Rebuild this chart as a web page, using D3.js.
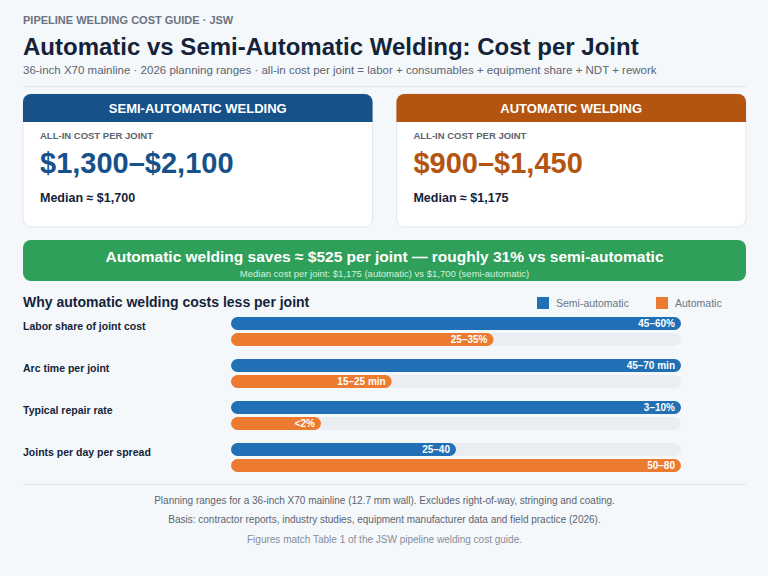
<!DOCTYPE html>
<html lang="en">
<head>
<meta charset="UTF-8">
<title>Automatic vs Semi-Automatic Welding: Cost per Joint</title>
<script src="https://cdn.jsdelivr.net/npm/d3@7"></script>
<style>
  body { margin: 0; background: #f5f8fb; }
  svg { font-family: "Liberation Sans", Arial, sans-serif; display: block; }
</style>
</head>
<body>
<svg width="768" height="576"></svg>
<script>
  // metrics: each is scaled to its own max (upper end of the range)
  var metrics = ["Labor share of joint cost", "Arc time per joint", "Typical repair rate", "Joints per day per spread"];
  var semiHigh = [60, 70, 10, 40];
  var autoHigh = [35, 25, 2, 80];
  var semiLabels = ["45–60%", "45–70 min", "3–10%", "25–40"];
  var autoLabels = ["25–35%", "15–25 min", "<2%", "50–80"];

  var cards = [
    {title: "SEMI-AUTOMATIC WELDING", range: "$1,300–$2,100", median: "Median ≈ $1,700", head: "#17518a", text: "#17518a"},
    {title: "AUTOMATIC WELDING", range: "$900–$1,450", median: "Median ≈ $1,175", head: "#b35410", text: "#b35410"}
  ];

  var svg = d3.select("svg");
  svg.append("rect").attr("width", 768).attr("height", 576).attr("fill", "#f5f8fb");

  svg.append("text").attr("x", 23).attr("y", 24).attr("font-size", 11).attr("font-weight", "bold")
    .attr("fill", "#6b7480").text("PIPELINE WELDING COST GUIDE  ·  JSW");
  svg.append("text").attr("x", 23).attr("y", 55).attr("font-size", 24).attr("font-weight", "bold")
    .attr("fill", "#14233a").text("Automatic vs Semi-Automatic Welding: Cost per Joint");
  svg.append("text").attr("x", 23).attr("y", 74).attr("font-size", 11.5).attr("fill", "#5b6470")
    .text("36-inch X70 mainline  ·  2026 planning ranges  ·  all-in cost per joint = labor + consumables + equipment share + NDT + rework");
  svg.append("line").attr("x1", 23).attr("x2", 746).attr("y1", 86.5).attr("y2", 86.5).attr("stroke", "#e1e6ec");

  // cards
  var cx = d3.scaleBand().domain([0, 1]).range([23, 746]).paddingInner(0.064);
  var cg = svg.selectAll("g.card").data(cards).enter().append("g")
    .attr("transform", (d, i) => "translate(" + cx(i) + ",94)");
  var cw = cx.bandwidth();
  cg.append("rect").attr("width", cw).attr("height", 133).attr("rx", 8)
    .attr("fill", "#fff").attr("stroke", "#e1e6ec");
  cg.append("path").attr("d", "M0,28 V8 A8,8 0 0 1 8,0 H" + (cw - 8) + " A8,8 0 0 1 " + cw + ",8 V28 Z")
    .attr("fill", d => d.head);
  cg.append("text").attr("x", cw / 2).attr("y", 19).attr("text-anchor", "middle").attr("font-size", 13)
    .attr("font-weight", "bold").attr("fill", "#fff").text(d => d.title);
  cg.append("text").attr("x", 17).attr("y", 45).attr("font-size", 9.5).attr("font-weight", "bold")
    .attr("fill", "#5b6470").text("ALL-IN COST PER JOINT");
  cg.append("text").attr("x", 17).attr("y", 79).attr("font-size", 29).attr("font-weight", "bold")
    .attr("fill", d => d.text).text(d => d.range);
  cg.append("text").attr("x", 17).attr("y", 108).attr("font-size", 12.5).attr("font-weight", "bold")
    .attr("fill", "#14233a").text(d => d.median);

  // banner
  svg.append("rect").attr("x", 23).attr("y", 240).attr("width", 723).attr("height", 41).attr("rx", 8).attr("fill", "#2fa05a");
  svg.append("text").attr("x", 384.5).attr("y", 262).attr("text-anchor", "middle").attr("font-size", 15.5)
    .attr("font-weight", "bold").attr("fill", "#fff")
    .text("Automatic welding saves ≈ $525 per joint — roughly 31% vs semi-automatic");
  svg.append("text").attr("x", 384.5).attr("y", 277).attr("text-anchor", "middle").attr("font-size", 9.5)
    .attr("fill", "#d6f0de").text("Median cost per joint: $1,175 (automatic)  vs  $1,700 (semi-automatic)");

  // bars section
  svg.append("text").attr("x", 23).attr("y", 307).attr("font-size", 14).attr("font-weight", "bold")
    .attr("fill", "#14233a").text("Why automatic welding costs less per joint");
  var legend = [["Semi-automatic", "#2170b5", 537], ["Automatic", "#ec7b30", 656]];
  legend.forEach(l => {
    svg.append("rect").attr("x", l[2]).attr("y", 297).attr("width", 12).attr("height", 12).attr("fill", l[1]);
    svg.append("text").attr("x", l[2] + 19).attr("y", 307).attr("font-size", 10.5).attr("fill", "#6b7480").text(l[0]);
  });

  var y = d3.scaleBand().domain(metrics).range([317, 485]).paddingInner(0);
  var x = d3.scaleLinear().domain([0, 1]).range([231, 681]);
  var bh = 13;
  metrics.forEach((m, i) => {
    var max = Math.max(semiHigh[i], autoHigh[i]);
    var y0 = y(m);
    svg.append("text").attr("x", 23).attr("y", y0 + 13).attr("font-size", 10.5).attr("font-weight", "bold")
      .attr("fill", "#14233a").text(m);
    [[semiHigh[i], semiLabels[i], "#2170b5", y0], [autoHigh[i], autoLabels[i], "#ec7b30", y0 + 16]].forEach(b => {
      svg.append("rect").attr("x", x(0)).attr("y", b[3]).attr("width", x(1) - x(0)).attr("height", bh)
        .attr("rx", bh / 2).attr("fill", "#eaeef3");
      var xe = x(b[0] / max);
      svg.append("rect").attr("x", x(0)).attr("y", b[3]).attr("width", xe - x(0)).attr("height", bh)
        .attr("rx", bh / 2).attr("fill", b[2]);
      var inside = xe - x(0) > 60;
      svg.append("text").attr("x", inside ? xe - 6 : xe + 6).attr("y", b[3] + 10)
        .attr("text-anchor", inside ? "end" : "start").attr("font-size", 10).attr("font-weight", "bold")
        .attr("fill", inside ? "#fff" : "#b35410").text(b[1]);
    });
  });

  // footer
  svg.append("line").attr("x1", 23).attr("x2", 746).attr("y1", 484.5).attr("y2", 484.5).attr("stroke", "#e1e6ec");
  [["Planning ranges for a 36-inch X70 mainline (12.7 mm wall). Excludes right-of-way, stringing and coating.", 504, "#5b6470"],
   ["Basis: contractor reports, industry studies, equipment manufacturer data and field practice (2026).", 523, "#5b6470"],
   ["Figures match Table 1 of the JSW pipeline welding cost guide.", 543, "#858d98"]].forEach(f => {
    svg.append("text").attr("x", 384.5).attr("y", f[1]).attr("text-anchor", "middle").attr("font-size", 10)
      .attr("fill", f[2]).text(f[0]);
  });
</script>
</body>
</html>
